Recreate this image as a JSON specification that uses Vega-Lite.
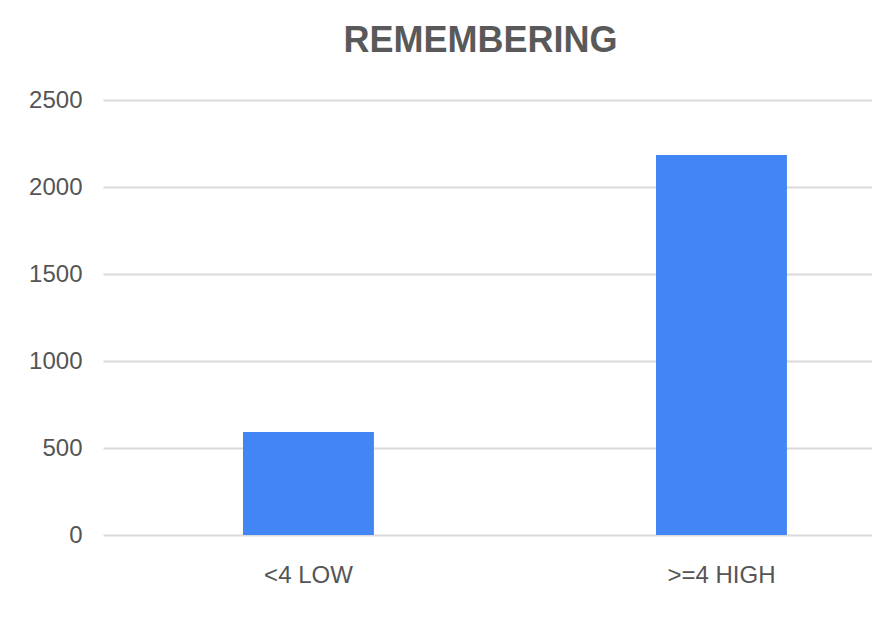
{
  "$schema": "https://vega.github.io/schema/vega-lite/v6.json",
  "autosize": "none",
  "width": 769,
  "height": 435,
  "padding": {"left": 103, "top": 100, "right": 0, "bottom": 94},
  "background": "white",
  "title": {
    "text": "REMEMBERING",
    "font": "Liberation Sans",
    "fontSize": 36,
    "fontWeight": "bold",
    "color": "#595959",
    "anchor": "middle",
    "baseline": "alphabetic",
    "offset": 0,
    "dx": -7
  },
  "data": {
    "values": [
      {"group": "<4 LOW", "count": 592},
      {"group": ">=4 HIGH", "count": 2184}
    ]
  },
  "mark": {"type": "bar", "color": "#4285F4"},
  "encoding": {
    "x": {
      "field": "group",
      "type": "nominal",
      "sort": null,
      "title": null,
      "scale": {"paddingInner": 0.683, "paddingOuter": 0.2725, "align": 0.622},
      "axis": {
        "labelAngle": 0,
        "labelFont": "Liberation Sans",
        "labelFontSize": 24,
        "labelColor": "#555555",
        "labelPadding": 28,
        "ticks": false,
        "tickSize": 0,
        "domain": false,
        "grid": false
      }
    },
    "y": {
      "field": "count",
      "type": "quantitative",
      "title": null,
      "scale": {"domain": [0, 2500], "nice": false},
      "axis": {
        "values": [0, 500, 1000, 1500, 2000, 2500],
        "format": "d",
        "labelFont": "Liberation Sans",
        "labelFontSize": 24,
        "labelColor": "#555555",
        "labelPadding": 21,
        "ticks": false,
        "tickSize": 0,
        "domain": false,
        "grid": true,
        "gridColor": "#dadada",
        "gridWidth": 2
      }
    }
  },
  "config": {
    "view": {"stroke": null}
  }
}
